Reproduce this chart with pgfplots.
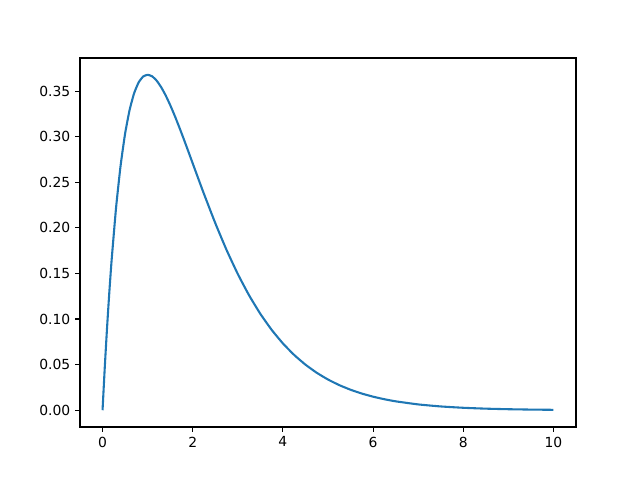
\documentclass[border=0pt]{standalone}
\usepackage{pgfplots}
\pgfplotsset{compat=1.18}
\usepackage{fontspec}
\setmainfont{DejaVu Sans}
\definecolor{tabblue}{HTML}{1F77B4}
\begin{document}
\begin{tikzpicture}
\begin{axis}[
  scale only axis,
  width=357.12pt, height=265.68pt,
  xmin=-0.5, xmax=10.5,
  ymin=-0.01839, ymax=0.38627,
  xtick={0,2,4,6,8,10},
  ytick={0,0.05,0.10,0.15,0.20,0.25,0.30,0.35},
  yticklabel style={/pgf/number format/fixed,/pgf/number format/fixed zerofill,/pgf/number format/precision=2},
  /pgf/number format/assume math mode=true,
  tick align=outside,
  tick pos=left,
  major tick length=3.5pt,
  every tick/.style={black, line width=0.8pt},
  axis line style={line width=0.8pt},
  ticklabel style={font=\fontsize{10}{12}\selectfont},
]
\addplot[tabblue, line width=1.5pt, line join=round, smooth, tension=0.3] coordinates {
(0,0) (0.05,0.047561) (0.1,0.090484) (0.15,0.129106) (0.2,0.163746) (0.3,0.222245)
(0.4,0.268128) (0.5,0.303265) (0.6,0.329287) (0.7,0.347610) (0.8,0.359463)
(0.9,0.365913) (1.0,0.367879) (1.1,0.366158) (1.2,0.361433) (1.3,0.354275) (1.4,0.345236)
(1.5,0.334695) (1.6,0.323034) (1.7,0.310562) (1.8,0.297538) (1.9,0.284180) (2.0,0.270671)
(2.1,0.257158) (2.25,0.237148) (2.5,0.205212)
(2.75,0.175802) (3.0,0.149361) (3.25,0.126016) (3.5,0.105691) (3.75,0.088191)
(4.0,0.073263) (4.25,0.060622) (4.5,0.049990) (4.75,0.041096) (5.0,0.033690)
(5.25,0.027549) (5.5,0.022477) (5.75,0.018301) (6.0,0.014873) (6.25,0.012066)
(6.5,0.009772) (7.0,0.006383) (7.5,0.004148) (8.0,0.002684) (8.5,0.001729)
(9.0,0.001111) (9.5,0.000711) (10,0.000454)
};
\end{axis}
\path[use as bounding box] ([xshift=-57.6pt,yshift=-38.16pt]current axis.south west) rectangle ([xshift=46.08pt,yshift=41.76pt]current axis.north east);
\end{tikzpicture}
\end{document}
